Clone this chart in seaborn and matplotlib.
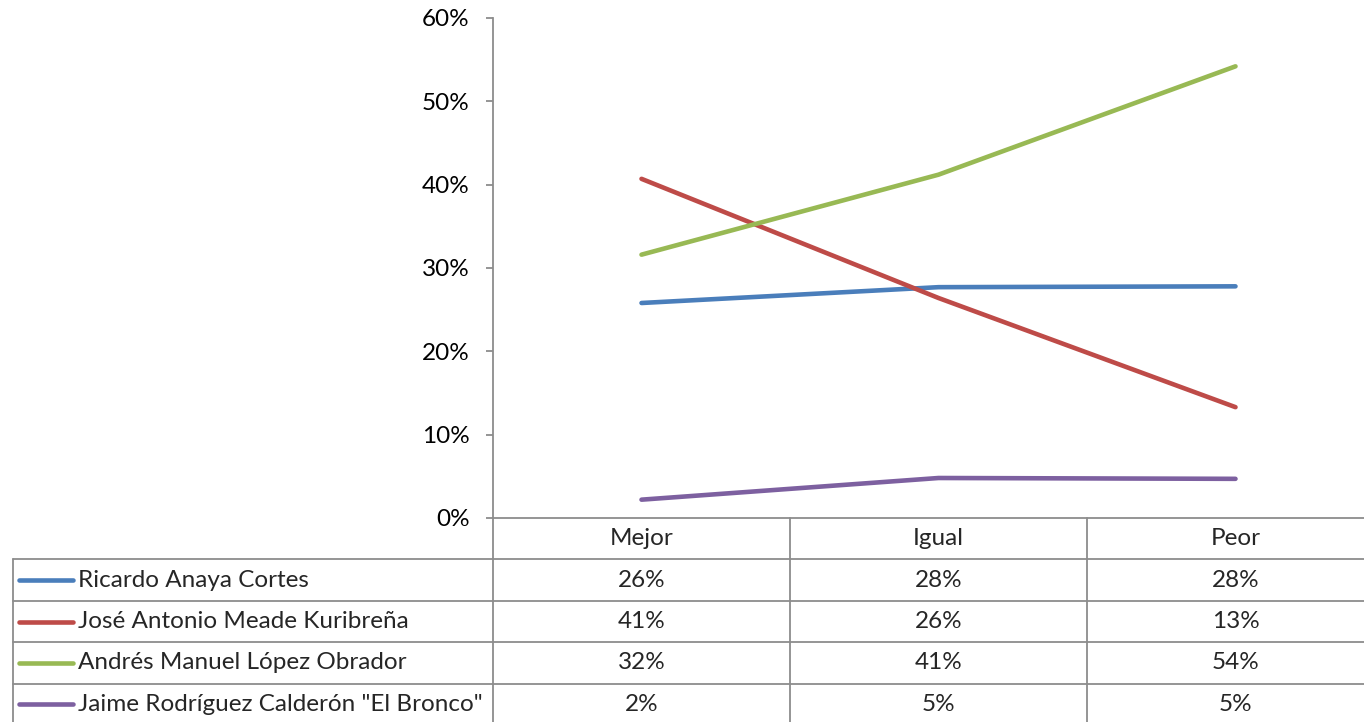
import numpy as np
import pandas as pd
import seaborn as sns
import matplotlib.pyplot as plt
from matplotlib.ticker import FuncFormatter

# datos (porcentaje)
categorias = ['Mejor', 'Igual', 'Peor']
candidatos = ['Ricardo Anaya Cortes',
              'José Antonio Meade Kuribreña',
              'Andrés Manuel López Obrador',
              'Jaime Rodríguez Calderón "El Bronco"']
anaya = [25.8, 27.7, 27.8]
meade = [40.7, 26.4, 13.3]
amlo = [31.6, 41.2, 54.2]
bronco = [2.2, 4.8, 4.7]
colores = ['#4A7EBB', '#BE4B48', '#98B954', '#7D60A0']

series = [anaya, meade, amlo, bronco]
filas = []
for nombre, vals in zip(candidatos, series):
    for cat, v in zip(categorias, vals):
        filas.append({'cat': cat, 'cand': nombre, 'val': v})
df = pd.DataFrame(filas)

sns.set_theme(style='white')
plt.rcParams['font.family'] = ['Lato', 'DejaVu Sans']
FS = 17.5
GRIS = '#8c8c8c'

W, H = 1364, 722
fig = plt.figure(figsize=(W / 100, H / 100), dpi=100)
fig.patch.set_facecolor('white')

# el grafico esta recortado a la derecha: el eje sigue fuera de la figura
ax = fig.add_axes([493 / W, 1 - 518 / H, 891 / W, 500 / H])
sns.lineplot(data=df, x='cat', y='val', hue='cand', hue_order=candidatos,
             palette=colores, linewidth=3.3, sort=False, legend=False, ax=ax)
ax.set_xlim(-0.5, 2.5)
ax.set_ylim(0, 60)
ax.set_yticks(np.arange(0, 61, 10))
ax.yaxis.set_major_formatter(FuncFormatter(lambda v, p: f'{v:.0f}%'))
ax.set_xticks([])
ax.set_xlabel('')
ax.set_ylabel('')
for s in ['top', 'right']:
    ax.spines[s].set_visible(False)
for s in ['left', 'bottom']:
    ax.spines[s].set_color(GRIS)
    ax.spines[s].set_linewidth(1.3)
    ax.spines[s].set_clip_on(False)
ax.tick_params(axis='y', direction='out', length=5, width=1.3, color=GRIS,
               labelsize=FS, labelcolor='black', pad=12, left=True)
ax.set_facecolor('none')

# tabla de datos debajo del grafico
ov = fig.add_axes([0, 0, 1, 1], zorder=-1)
ov.set_xlim(0, W)
ov.set_ylim(H, 0)
ov.axis('off')

fig.canvas.draw()
bordes = [ax.transData.transform((b, 0))[0] for b in [-0.5, 0.5, 1.5, 2.5]]
centros = [(a + b) / 2 for a, b in zip(bordes[:-1], bordes[1:])]

top = 518
alto = 41.4
abajo = top + 5 * alto
for b in bordes:
    ov.plot([b, b], [top, abajo], color=GRIS, lw=1.3, clip_on=False)
for k in range(1, 5):
    y = top + k * alto
    ov.plot([13, W + 40], [y, y], color=GRIS, lw=1.3, clip_on=False)
ov.plot([13, 13], [top + alto, abajo], color=GRIS, lw=1.3, clip_on=False)

for cat, cx in zip(categorias, centros):
    ov.text(cx, top + alto / 2, cat, ha='center', va='center', fontsize=FS)

for i, (nombre, vals, col) in enumerate(zip(candidatos, series, colores)):
    yc = top + (i + 1.5) * alto
    ov.plot([19, 73], [yc, yc], color=col, lw=3.3, solid_capstyle='round')
    ov.text(78, yc, nombre, ha='left', va='center', fontsize=FS)
    for v, cx in zip(vals, centros):
        ov.text(cx, yc, f'{v:.0f}%', ha='center', va='center', fontsize=FS)

fig.savefig('out.png', dpi=100, facecolor='white')
